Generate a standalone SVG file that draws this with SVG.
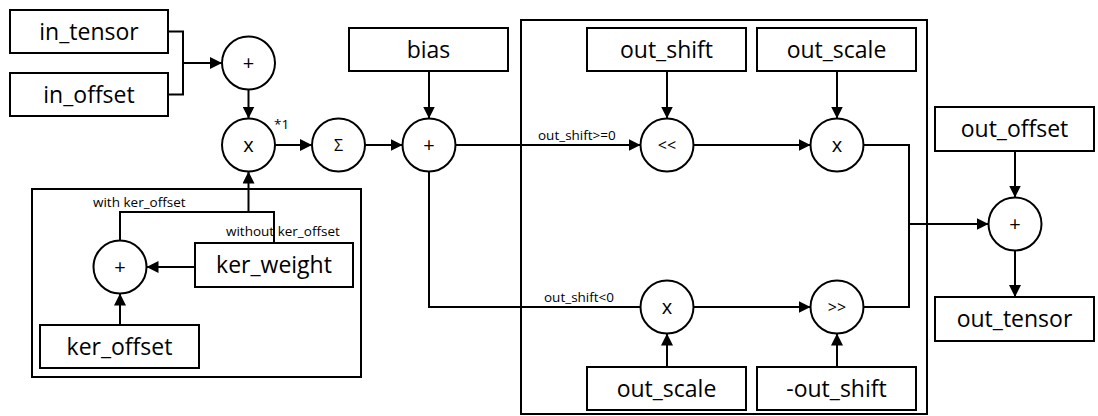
<svg xmlns="http://www.w3.org/2000/svg" width="1098" height="416" viewBox="0 0 1098 416">
<defs>
<marker id="arr" viewBox="0 0 12 12" refX="12" refY="6" markerWidth="12" markerHeight="12" orient="auto" markerUnits="userSpaceOnUse"><path d="M0,0 L12,6 L0,12 z" fill="#000"/></marker>
<style>
.box{fill:#fff;stroke:#000;stroke-width:2}
.grp{fill:none;stroke:#000;stroke-width:2}
.op{fill:#fff;stroke:#000;stroke-width:2}
.bt{font-family:"Open Sans","Liberation Sans",sans-serif;font-size:23px;text-anchor:middle;fill:#000}
.ot{font-family:"Open Sans","Liberation Sans",sans-serif;font-size:20px;text-anchor:middle;fill:#000}
.st{font-family:"Open Sans","Liberation Sans",sans-serif;font-size:16px;text-anchor:middle;fill:#000}
.lb{font-family:"Open Sans","Liberation Sans",sans-serif;font-size:13.5px;fill:#000}
.c{fill:none;stroke:#000;stroke-width:2}
.a{fill:none;stroke:#000;stroke-width:2;marker-end:url(#arr)}
</style>
</defs>
<rect width="1098" height="416" fill="#fff"/>
<g id="containers">
<rect class="grp" x="32" y="189" width="329" height="188"/>
<rect class="grp" x="521" y="20" width="406" height="394"/>
</g>
<g id="connectors">
<path class="c" d="M168,31.5 H183 V94.5 H168"/>
<path class="a" d="M183,63 H222"/>
<path class="a" d="M248.5,89.5 V118.5"/>
<path class="a" d="M275,145 H312"/>
<path class="a" d="M365,145 H402.5"/>
<path class="a" d="M429,71 V118.5"/>
<path class="a" d="M455.5,145 H640.5"/>
<path class="c" d="M429,171.5 V307 H640.5"/>
<path class="a" d="M667,71 V118.5"/>
<path class="a" d="M693.5,145 H810.5"/>
<path class="a" d="M837,71 V118.5"/>
<path class="c" d="M863.5,145 H909 V307 H863.5"/>
<path class="a" d="M909,224 H988.5"/>
<path class="a" d="M1015,151 V197.5"/>
<path class="a" d="M1015,250.5 V297"/>
<path class="a" d="M693.5,307 H810.5"/>
<path class="a" d="M667,367 V333.5"/>
<path class="a" d="M837,367 V333.5"/>
<path class="c" d="M120,240.5 V212 H274 V243"/>
<path class="a" d="M248.5,212 V171.5"/>
<path class="a" d="M195,267 H146.5"/>
<path class="a" d="M120,325 V293.5"/>
<text class="lb" x="93" y="207">with ker_offset</text>
<text class="lb" x="226" y="236">without ker_offset</text>
<text class="lb" x="538" y="140">out_shift&gt;=0</text>
<text class="lb" x="544" y="302">out_shift&lt;0</text>
<text class="lb" x="274" y="129">*1</text>
</g>
<g id="in_tensor"><rect class="box" x="10" y="10" width="158" height="43"/><text class="bt" x="89" y="40">in_tensor</text></g>
<g id="in_offset"><rect class="box" x="10" y="73" width="158" height="43"/><text class="bt" x="89" y="103">in_offset</text></g>
<g id="bias"><rect class="box" x="349" y="28" width="159" height="43"/><text class="bt" x="428.5" y="58">bias</text></g>
<g id="out_shift"><rect class="box" x="587" y="28" width="159" height="43"/><text class="bt" x="666.5" y="58">out_shift</text></g>
<g id="out_scale_top"><rect class="box" x="757" y="28" width="159" height="43"/><text class="bt" x="836.5" y="58">out_scale</text></g>
<g id="out_offset"><rect class="box" x="935" y="107" width="159" height="44"/><text class="bt" x="1014.5" y="137">out_offset</text></g>
<g id="out_tensor"><rect class="box" x="935" y="297" width="159" height="44"/><text class="bt" x="1014.5" y="327">out_tensor</text></g>
<g id="ker_weight"><rect class="box" x="195" y="243" width="158" height="44"/><text class="bt" x="274" y="273">ker_weight</text></g>
<g id="ker_offset"><rect class="box" x="40" y="325" width="159" height="43"/><text class="bt" x="119.5" y="355">ker_offset</text></g>
<g id="out_scale_bottom"><rect class="box" x="587" y="367" width="159" height="43"/><text class="bt" x="666.5" y="397">out_scale</text></g>
<g id="neg_out_shift"><rect class="box" x="757" y="367" width="159" height="43"/><text class="bt" x="836.5" y="397">-out_shift</text></g>
<g id="add_in"><circle class="op" cx="248.5" cy="63" r="26.5"/><text class="ot" x="248.5" y="70">+</text></g>
<g id="mul_w"><circle class="op" cx="248.5" cy="145" r="26.5"/><text class="ot" x="248.5" y="152">x</text></g>
<g id="sum"><circle class="op" cx="338.5" cy="145" r="26.5"/><text class="st" x="338.5" y="151">Σ</text></g>
<g id="add_bias"><circle class="op" cx="429" cy="145" r="26.5"/><text class="ot" x="429" y="152">+</text></g>
<g id="add_ker"><circle class="op" cx="120" cy="267" r="26.5"/><text class="ot" x="120" y="274">+</text></g>
<g id="shl"><circle class="op" cx="667" cy="145" r="26.5"/><text class="st" x="667" y="151">&lt;&lt;</text></g>
<g id="mul_scale_top"><circle class="op" cx="837" cy="145" r="26.5"/><text class="ot" x="837" y="152">x</text></g>
<g id="mul_scale_bottom"><circle class="op" cx="667" cy="307" r="26.5"/><text class="ot" x="667" y="314">x</text></g>
<g id="shr"><circle class="op" cx="837" cy="307" r="26.5"/><text class="st" x="837" y="313">&gt;&gt;</text></g>
<g id="add_out"><circle class="op" cx="1015" cy="224" r="26.5"/><text class="ot" x="1015" y="231">+</text></g>
</svg>
